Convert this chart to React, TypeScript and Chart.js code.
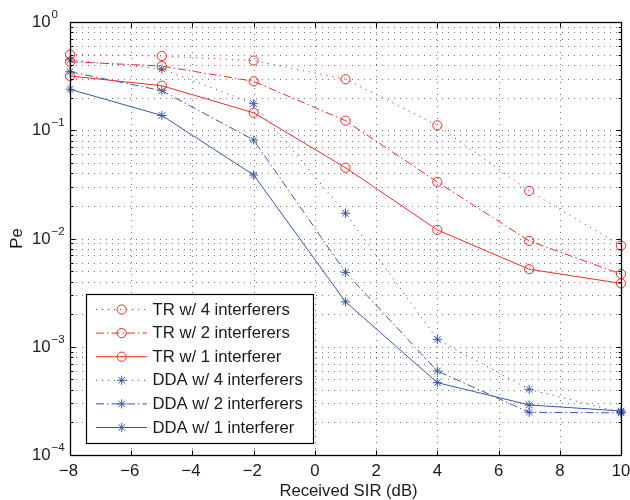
import React, { useEffect, useRef } from "react";
import { Chart, registerables } from "chart.js";

Chart.register(...registerables);

// Received SIR (dB) sample points
const sirDb = [-8, -5, -2, 1, 4, 7, 10];

// Bit error probability per receiver / interferer count
const tr4 = [0.5, 0.485, 0.44, 0.296, 0.111, 0.0275, 0.0086];
const tr2 = [0.43, 0.392, 0.283, 0.1226, 0.0333, 0.0095, 0.0047];
const tr1 = [0.317, 0.258, 0.145, 0.0451, 0.012, 0.0052, 0.00385];
const dda4 = [0.446, 0.368, 0.176, 0.0171, 0.00117, 0.000404, 0.000248];
const dda2 = [0.347, 0.232, 0.0813, 0.00487, 0.000597, 0.000248, 0.000245];
const dda1 = [0.239, 0.137, 0.0386, 0.0026, 0.000466, 0.00029, 0.000255];

const seriesLabels = [
  "TR w/ 4 interferers",
  "TR w/ 2 interferers",
  "TR w/ 1 interferer",
  "DDA w/ 4 interferers",
  "DDA w/ 2 interferers",
  "DDA w/ 1 interferer",
];

const xTicks = [-8, -6, -4, -2, 0, 2, 4, 6, 8, 10];
const yDecades = [-4, -3, -2, -1, 0];

const RED = "rgb(238,42,42)";
const BLUE = "rgb(58,88,168)";
const DOTTED = [1.2, 4.8];
const DASHDOT = [8, 3, 1.5, 3];
const FONT = '"Liberation Sans", Arial, Helvetica, sans-serif';
const FS = 16.7;

type Style = { color: string; dash: number[]; marker: "circle" | "star" };
const styles: Style[] = [
  { color: RED, dash: DOTTED, marker: "circle" },
  { color: RED, dash: DASHDOT, marker: "circle" },
  { color: RED, dash: [], marker: "circle" },
  { color: BLUE, dash: DOTTED, marker: "star" },
  { color: BLUE, dash: DASHDOT, marker: "star" },
  { color: BLUE, dash: [], marker: "star" },
];
const seriesValues = [tr4, tr2, tr1, dda4, dda2, dda1];

function drawMarker(ctx: CanvasRenderingContext2D, kind: string, x: number, y: number, r: number, color: string) {
  ctx.save();
  ctx.setLineDash([]);
  ctx.strokeStyle = color;
  ctx.lineWidth = 1;
  ctx.beginPath();
  if (kind === "circle") {
    ctx.arc(x, y, r, 0, Math.PI * 2);
  } else {
    for (let k = 0; k < 4; k++) {
      const a = (k * Math.PI) / 4;
      ctx.moveTo(x - r * Math.cos(a), y - r * Math.sin(a));
      ctx.lineTo(x + r * Math.cos(a), y + r * Math.sin(a));
    }
  }
  ctx.stroke();
  ctx.restore();
}

const framePlugin = {
  id: "matlabFrame",
  beforeDatasetsDraw(chart: any) {
    const { ctx, chartArea: a, scales } = chart;
    const xs = scales.x;
    const ys = scales.y;
    ctx.save();
    ctx.strokeStyle = "rgba(30,30,30,0.6)";
    ctx.lineWidth = 1;
    ctx.setLineDash([1, 5]);
    // vertical grid
    for (const t of xTicks) {
      const px = Math.round(xs.getPixelForValue(t)) + 0.5;
      if (t === xTicks[0] || t === xTicks[xTicks.length - 1]) continue;
      ctx.beginPath();
      ctx.moveTo(px, a.bottom);
      ctx.lineTo(px, a.top);
      ctx.stroke();
    }
    // horizontal grid at every log tick
    for (const d of yDecades.slice(0, -1)) {
      for (let m = 1; m <= 9; m++) {
        if (d === -4 && m === 1) continue;
        const py = Math.round(ys.getPixelForValue(m * Math.pow(10, d))) + 0.5;
        ctx.beginPath();
        ctx.moveTo(a.left, py);
        ctx.lineTo(a.right, py);
        ctx.stroke();
      }
    }
    ctx.restore();
  },
  afterDatasetsDraw(chart: any) {
    const { ctx, chartArea: a, scales } = chart;
    const xs = scales.x;
    const ys = scales.y;
    ctx.save();
    ctx.setLineDash([]);
    ctx.strokeStyle = "#000";
    ctx.lineWidth = 1;
    const L = Math.round(a.left) + 0.5;
    const R = Math.round(a.right) + 0.5;
    const T = Math.round(a.top) + 0.5;
    const B = Math.round(a.bottom) + 0.5;
    // ticks
    ctx.beginPath();
    for (const t of xTicks) {
      const px = Math.round(xs.getPixelForValue(t)) + 0.5;
      ctx.moveTo(px, B);
      ctx.lineTo(px, B - 5);
      ctx.moveTo(px, T);
      ctx.lineTo(px, T + 5);
    }
    for (const d of yDecades) {
      for (let m = 1; m <= 9; m++) {
        if (d === 0 && m > 1) break;
        const py = Math.round(ys.getPixelForValue(m * Math.pow(10, d))) + 0.5;
        const len = m === 1 ? 5 : 3;
        ctx.moveTo(L, py);
        ctx.lineTo(L + len, py);
        ctx.moveTo(R, py);
        ctx.lineTo(R - len, py);
      }
    }
    ctx.stroke();
    ctx.lineWidth = 1.3;
    ctx.strokeRect(L, T, R - L, B - T);

    // tick labels
    ctx.fillStyle = "#1a1a1a";
    ctx.font = `${FS}px ${FONT}`;
    ctx.textAlign = "center";
    ctx.textBaseline = "middle";
    for (const t of xTicks) {
      const px = xs.getPixelForValue(t);
      const s = t < 0 ? "\u2212" + Math.abs(t) : String(t);
      ctx.fillText(s, px - (t < 0 ? 1.5 : 0), a.bottom + 16);
    }
    for (const d of yDecades) {
      const py = ys.getPixelForValue(Math.pow(10, d));
      ctx.font = `${FS}px ${FONT}`;
      ctx.textAlign = "right";
      ctx.textBaseline = "middle";
      ctx.fillText("10", 50.5, py + 0.5);
      ctx.font = `11.5px ${FONT}`;
      ctx.textAlign = "left";
      ctx.fillText(d < 0 ? "\u2212" + Math.abs(d) : String(d), 51.5, py - 7);
    }
    // axis titles
    ctx.font = `${FS}px ${FONT}`;
    ctx.textAlign = "center";
    ctx.textBaseline = "middle";
    ctx.fillText("Received SIR (dB)", (a.left + a.right) / 2 + 3, 491);
    ctx.save();
    ctx.translate(17.5, (a.top + a.bottom) / 2);
    ctx.rotate(-Math.PI / 2);
    ctx.fillText("Pe", 0, 0);
    ctx.restore();

    // legend
    const bx = 86.5, by = 294.5, bw = 227, bh = 149;
    ctx.fillStyle = "#fff";
    ctx.fillRect(bx, by, bw, bh);
    ctx.lineWidth = 1.2;
    ctx.strokeStyle = "#000";
    ctx.strokeRect(bx, by, bw, bh);
    chart.data.datasets.forEach((ds: any, i: number) => {
      const ry = 309.5 + i * 23.6;
      ctx.save();
      ctx.strokeStyle = ds.borderColor;
      ctx.lineWidth = 1;
      ctx.setLineDash(ds.borderDash || []);
      ctx.beginPath();
      ctx.moveTo(96, ry);
      ctx.lineTo(147, ry);
      ctx.stroke();
      ctx.restore();
      drawMarker(ctx, styles[i].marker, 121.7, ry, 4.6, ds.borderColor);
      ctx.fillStyle = "#1a1a1a";
      ctx.font = `${FS}px ${FONT}`;
      ctx.textAlign = "left";
      ctx.textBaseline = "middle";
      ctx.fillText(ds.label, 152.5, ry + 0.5);
    });
    ctx.restore();
  },
};

export default function App() {
  const canvasRef = useRef<HTMLCanvasElement | null>(null);

  useEffect(() => {
    document.body.style.margin = "0";
    const canvas = canvasRef.current;
    if (!canvas) return;
    const datasets = seriesValues.map((vals, i) => ({
      label: seriesLabels[i],
      data: sirDb.map((x, j) => ({ x, y: vals[j] })),
      borderColor: styles[i].color,
      backgroundColor: "rgba(0,0,0,0)",
      borderWidth: 1,
      borderDash: styles[i].dash,
      pointStyle: styles[i].marker === "circle" ? "circle" : "star",
      pointRadius: 4.6,
      pointBorderWidth: 1,
      pointBorderColor: styles[i].color,
      pointBackgroundColor: "rgba(0,0,0,0)",
      tension: 0,
      fill: false,
      clip: false as any,
    }));
    const chart = new Chart(canvas, {
      type: "line",
      data: { datasets },
      options: {
        animation: false,
        responsive: false,
        devicePixelRatio: 1,
        layout: { padding: { left: 0, top: 22, right: 9, bottom: 0 } },
        plugins: { legend: { display: false }, tooltip: { enabled: false } },
        scales: {
          x: {
            type: "linear",
            min: -8,
            max: 10,
            grid: { display: false },
            border: { display: false },
            ticks: { display: false },
            afterFit: (s: any) => {
              s.height = 45;
            },
          },
          y: {
            type: "logarithmic",
            min: 1e-4,
            max: 1,
            grid: { display: false },
            border: { display: false },
            ticks: { display: false },
            afterFit: (s: any) => {
              s.width = 70;
            },
          },
        },
      },
      plugins: [framePlugin],
    });
    return () => chart.destroy();
  }, []);

  return (
    <div style={{ position: "fixed", left: 0, top: 0, width: 630, height: 500, background: "#fff" }}>
      <canvas ref={canvasRef} width={630} height={500} style={{ width: 630, height: 500, display: "block" }} />
    </div>
  );
}
